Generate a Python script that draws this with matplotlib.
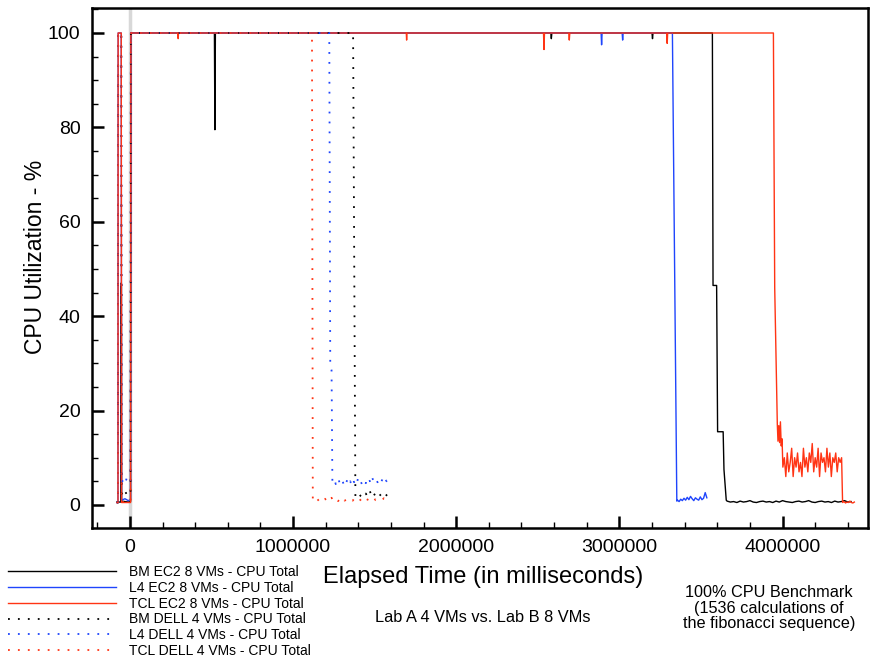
import numpy as np
import matplotlib
matplotlib.use("Agg")
import matplotlib.pyplot as plt
from matplotlib.lines import Line2D
from matplotlib.ticker import MultipleLocator

plt.rcParams["font.family"] = ["Liberation Sans", "DejaVu Sans"]

BLACK = "#000000"
BLUE = "#1f45fc"
RED = "#ff3414"

# ---- BM EC2 8 VMs (black solid)
bm_ec2_t = [-80000, -55000, -54000, -52000, -51000, -30000, -10000, 4000, 6000,
            300000, 518000, 521000, 524000, 1100000, 2000000, 2580000, 2583000,
            2586000, 3200000, 3203000, 3206000, 3570000, 3574000, 3596000,
            3602000, 3636000, 3641000, 3655000]
bm_ec2_v = [0.6, 0.6, 47, 47, 0.8, 0.7, 0.6, 0.7, 100,
            100, 100, 79.5, 100, 100, 100, 100, 98.8,
            100, 100, 98.8, 100, 100, 46.5, 46.5,
            15.5, 15.5, 7.5, 1.0]
bm_ec2_tail_start, bm_ec2_tail_step = 3660000, 20000
bm_ec2_tail = [0.8, 0.6, 0.7, 0.5, 0.8, 0.6, 0.7, 0.9, 0.6, 0.5, 0.7, 0.8, 0.6,
               0.7, 0.5, 0.8, 0.6, 0.9, 0.7, 0.6, 0.5, 0.7, 0.8, 0.6, 0.7, 0.9,
               0.6, 0.5, 0.7, 0.8, 0.6, 0.7, 0.5, 0.8, 0.6, 0.7, 0.9, 0.6, 0.7]

# ---- L4 EC2 8 VMs (blue solid)
l4_ec2_t = [-80000, -73000, -72000, -53000, -51000, -30000, -10000, 4000, 6000,
            1200000, 2888000, 2891000, 2894000, 3017000, 3020000, 3023000,
            3325000, 3352000]
l4_ec2_v = [0.5, 0.5, 100, 100, 1.0, 1.3, 0.9, 1.1, 100,
            100, 100, 97.5, 100, 100, 98.5, 100,
            100, 0.8]
l4_ec2_tail_start, l4_ec2_tail_step = 3356000, 10000
l4_ec2_tail = [1.0, 0.7, 1.2, 0.9, 1.4, 1.0, 1.6, 1.1, 1.8, 1.3, 0.9, 1.5, 1.2,
               1.0, 1.7, 1.1, 1.4, 2.6, 1.5]

# ---- TCL EC2 8 VMs (red solid)
tcl_ec2_t = [-80000, -73000, -72000, -53000, -51000, 4000, 6000, 294000, 296000,
             298000, 1694000, 1696000, 1698000, 2535000, 2538000, 2541000,
             2690000, 2693000, 2696000, 3290000, 3293000, 3296000, 3944000,
             3952000, 3968000]
tcl_ec2_v = [0.5, 0.5, 100, 100, 0.5, 0.5, 100, 100, 98.8,
             100, 100, 98.5, 100, 100, 96.5, 100,
             100, 98.5, 100, 100, 97.8, 100, 100,
             46, 17]
tcl_ec2_mid_start, tcl_ec2_mid_step = 3972000, 5000
tcl_ec2_mid = [13.5, 16.8, 13.2, 17.6, 12.5, 14.0]
tcl_ec2_noise_start, tcl_ec2_noise_step = 4002000, 9000
tcl_ec2_noise = [8, 10, 6, 11, 7, 9, 12, 6, 10, 8, 11, 7, 9, 6, 12, 8, 10, 7,
                 11, 9, 13, 7, 10, 8, 12, 6, 11, 9, 10, 7, 12, 8, 11, 6, 10, 9,
                 11, 7, 10, 9, 10]
tcl_ec2_tail_start, tcl_ec2_tail_step = 4368000, 9000
tcl_ec2_tail = [0.5, 0.7, 0.4, 0.6, 0.5, 0.8, 0.5, 0.4, 0.6]

# ---- BM DELL 4 VMs (black dotted)
bm_dell_t = [-80000, -73000, -72000, -53000, -51000, -40000, -30000, -20000,
             -10000, 4000, 6000, 1368000, 1382000]
bm_dell_v = [0.5, 0.5, 100, 100, 2.5, 2.0, 3.0, 2.2, 2.8, 2.5, 100, 100, 1.8]
bm_dell_tail_start, bm_dell_tail_step = 1390000, 8000
bm_dell_tail = [2.0, 1.6, 2.2, 1.9, 1.7, 2.1, 1.8, 2.4, 1.9, 2.0, 3.0, 2.2, 1.8,
                2.5, 2.0, 2.3, 1.9, 2.4, 2.1, 1.8, 2.2, 1.9, 2.3, 2.0, 1.7]

# ---- L4 DELL 4 VMs (blue dotted)
l4_dell_t = [-80000, -73000, -72000, -53000, -51000, -40000, -30000, -20000,
             -10000, 4000, 6000, 1222000, 1228000, 1236000, 1241000]
l4_dell_v = [0.5, 0.5, 100, 100, 4.8, 5.3, 4.5, 5.6, 4.7, 4.9, 100, 100, 29.5,
             28.5, 5.0]
l4_dell_tail_start, l4_dell_tail_step = 1246000, 8000
l4_dell_tail = [4.6, 5.2, 4.4, 5.0, 5.6, 4.5, 4.9, 5.3, 4.3, 5.1, 4.7, 5.5, 4.6,
                5.0, 4.4, 5.4, 4.8, 5.2, 4.5, 5.6, 4.7, 5.0, 4.4, 5.3, 4.9, 4.6,
                5.5, 4.8, 5.1, 4.5, 5.7, 4.9, 4.6, 5.2, 4.8, 5.4, 4.7, 5.0, 5.6,
                4.8, 5.3, 5.0, 5.5]

# ---- TCL DELL 4 VMs (red dotted)
tcl_dell_t = [-80000, -73000, -72000, -53000, -51000, 4000, 6000, 1116000,
              1121000]
tcl_dell_v = [0.5, 0.5, 100, 100, 0.6, 0.6, 100, 100, 1.0]
tcl_dell_tail_start, tcl_dell_tail_step = 1126000, 10000
tcl_dell_tail = [0.9, 1.2, 0.8, 1.1, 1.4, 0.9, 1.0, 1.3, 0.8, 1.2, 1.0, 1.5,
                 0.9, 1.1, 1.3, 0.8, 1.2, 1.0, 1.4, 0.9, 1.1, 1.3, 1.0, 1.2,
                 0.9, 1.4, 1.1, 1.0, 1.3, 0.9, 1.2, 1.5, 1.0, 1.1, 1.3, 0.9,
                 1.2, 1.4, 1.0, 1.1, 1.3, 1.2, 1.0, 1.4, 1.1, 1.2, 1.3]

labels = ["BM EC2 8 VMs - CPU Total", "L4 EC2 8 VMs - CPU Total",
          "TCL EC2 8 VMs - CPU Total", "BM DELL 4 VMs - CPU Total",
          "L4 DELL 4 VMs - CPU Total", "TCL DELL 4 VMs - CPU Total"]


def build(t, v, *blocks):
    xs, ys = list(t), list(v)
    for start, step, vals in blocks:
        xs += [start + step * i for i in range(len(vals))]
        ys += list(vals)
    return np.array(xs), np.array(ys)


series = [
    build(bm_ec2_t, bm_ec2_v, (bm_ec2_tail_start, bm_ec2_tail_step, bm_ec2_tail)),
    build(l4_ec2_t, l4_ec2_v, (l4_ec2_tail_start, l4_ec2_tail_step, l4_ec2_tail)),
    build(tcl_ec2_t, tcl_ec2_v,
          (tcl_ec2_mid_start, tcl_ec2_mid_step, tcl_ec2_mid),
          (tcl_ec2_noise_start, tcl_ec2_noise_step, tcl_ec2_noise),
          (tcl_ec2_tail_start, tcl_ec2_tail_step, tcl_ec2_tail)),
    build(bm_dell_t, bm_dell_v, (bm_dell_tail_start, bm_dell_tail_step, bm_dell_tail)),
    build(l4_dell_t, l4_dell_v, (l4_dell_tail_start, l4_dell_tail_step, l4_dell_tail)),
    build(tcl_dell_t, tcl_dell_v, (tcl_dell_tail_start, tcl_dell_tail_step, tcl_dell_tail)),
]
colors = [BLACK, BLUE, RED, BLACK, BLUE, RED]
dotted = (0, (1, 4.5))
styles = ["-", "-", "-", dotted, dotted, dotted]
widths = [1.0, 1.0, 1.0, 1.3, 1.3, 1.3]

fig = plt.figure(figsize=(8.71, 6.6), dpi=100)
ax = fig.add_axes([0.1053, 0.2, 0.8913, 0.7879])

ax.axvline(0, color="#d8d8d8", linewidth=2.5, zorder=0)

for (x, y), c, ls, lw in zip(series, colors, styles, widths):
    ax.plot(x, y, color=c, linestyle=ls, linewidth=lw)

ax.set_xlim(-234000, 4524000)
ax.set_ylim(-4.9, 105.3)

ax.xaxis.set_major_locator(MultipleLocator(1000000))
ax.xaxis.set_minor_locator(MultipleLocator(200000))
ax.yaxis.set_major_locator(MultipleLocator(20))
ax.yaxis.set_minor_locator(MultipleLocator(5))
ax.ticklabel_format(style="plain", axis="x")
ax.tick_params(which="both", direction="in", top=False, right=False,
               labelsize=14)
ax.tick_params(which="major", length=8.5, width=1.8, pad=8)
ax.tick_params(which="minor", length=4, width=1.0)
for s in ax.spines.values():
    s.set_linewidth(1.8)

fig.text(483 / 871, 1 - 577 / 660, "Elapsed Time (in milliseconds)",
         ha="center", va="center", fontsize=17)
fig.text(36 / 871, 1 - 257 / 660, "CPU Utilization - %", rotation=90,
         ha="center", va="center", fontsize=16.5)
fig.text(483 / 871, 1 - 617 / 660, "Lab A 4 VMs vs. Lab B 8 VMs",
         ha="center", va="center", fontsize=11.8)
fig.text(769 / 871, 1 - 608 / 660,
         "100% CPU Benchmark\n(1536 calculations of\nthe fibonacci sequence)",
         ha="center", va="center", fontsize=11.7, linespacing=1.05)

handles = [Line2D([], [], color=c, linestyle=ls, linewidth=lw)
           for c, ls, lw in zip(colors, styles, widths)]
fig.legend(handles, labels, loc="upper left",
           bbox_to_anchor=(8 / 871, 1 - 565 / 660), frameon=False,
           fontsize=10.0, handlelength=7.78, handletextpad=0.94,
           labelspacing=0.13, borderpad=0, borderaxespad=0)

fig.savefig("out.png", dpi=100)
